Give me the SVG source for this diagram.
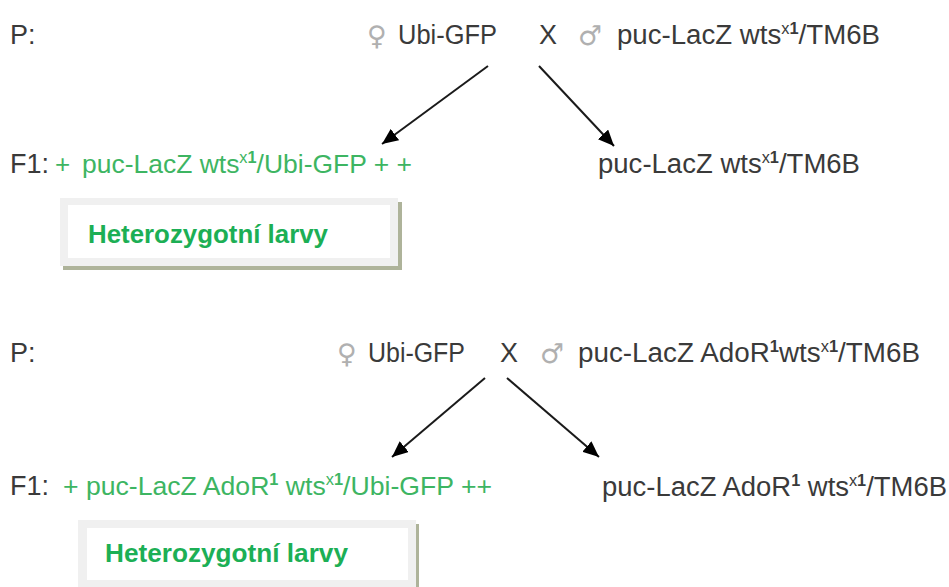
<svg xmlns="http://www.w3.org/2000/svg" width="949" height="587" viewBox="0 0 949 587">
<style>
  text { font-family: "Liberation Sans", Arial, sans-serif; font-size: 27px; }
  .k { fill: #3a3a3a; }
  .g { fill: #3db562; font-size: 26px; }
  .sym { font-family: "DejaVu Sans", sans-serif; font-size: 27px; fill: #b0b0b0; }
  .lbl { font-weight: bold; fill: #1caf55; font-size: 26px; }
  .sup { font-size: 16px; }
  .b { font-weight: bold; }
  .conn line { stroke: #1a1a1a; stroke-width: 2; marker-end: url(#ah); }
  .frame { fill: #f0f0f0; }
  .shadow { fill: #aeb39a; }
  .inner { fill: #ffffff; }
</style>
<defs>
  <marker id="ah" markerUnits="userSpaceOnUse" markerWidth="18" markerHeight="14" refX="16" refY="7" orient="auto">
    <path d="M0,0 L16,7 L0,14 z" fill="#000"/>
  </marker>
</defs>
<rect width="949" height="587" fill="#ffffff"/>

<g id="cross1-parents">
  <text class="k" x="10" y="44">P:</text>
  <text class="sym" x="367" y="45">♀</text>
  <text class="k" x="398" y="44" textLength="99" lengthAdjust="spacingAndGlyphs">Ubi-GFP</text>
  <text class="k" x="539" y="44">X</text>
  <text class="sym" x="578" y="45">♂</text>
  <text class="k" x="617" y="44" textLength="263" lengthAdjust="spacingAndGlyphs">puc-LacZ wts<tspan class="sup" dy="-10">x</tspan><tspan class="sup b">1</tspan><tspan dy="10">/TM6B</tspan></text>
</g>

<g id="cross1-f1-left">
  <text class="k" x="10" y="173">F1:</text>
  <text class="g" x="55" y="173">+</text>
  <text class="g" x="82" y="173" textLength="330" lengthAdjust="spacingAndGlyphs">puc-LacZ wts<tspan class="sup" dy="-10">x</tspan><tspan class="sup b">1</tspan><tspan dy="10">/Ubi-GFP + +</tspan></text>
</g>

<g id="cross1-f1-right">
  <text class="k" x="598" y="173" textLength="262" lengthAdjust="spacingAndGlyphs">puc-LacZ wts<tspan class="sup" dy="-10">x</tspan><tspan class="sup b">1</tspan><tspan dy="10">/TM6B</tspan></text>
</g>

<g id="cross1-label">
  <rect class="shadow" x="63" y="202" width="339" height="68"/>
  <rect class="frame" x="60" y="198" width="338" height="68"/>
  <rect class="inner" x="68" y="205" width="322" height="53"/>
  <text class="lbl" x="88" y="243" textLength="240" lengthAdjust="spacingAndGlyphs">Heterozygotní larvy</text>
</g>

<g id="cross2-parents">
  <text class="k" x="10" y="362">P:</text>
  <text class="sym" x="337" y="363">♀</text>
  <text class="k" x="368" y="362" textLength="97" lengthAdjust="spacingAndGlyphs">Ubi-GFP</text>
  <text class="k" x="500" y="362">X</text>
  <text class="sym" x="540" y="363">♂</text>
  <text class="k" x="578" y="362" textLength="342" lengthAdjust="spacingAndGlyphs">puc-LacZ AdoR<tspan class="sup b" dy="-10">1</tspan><tspan dy="10">wts</tspan><tspan class="sup" dy="-10">x</tspan><tspan class="sup b">1</tspan><tspan dy="10">/TM6B</tspan></text>
</g>

<g id="cross2-f1-left">
  <text class="k" x="10" y="495">F1:</text>
  <text class="g" x="63" y="495" textLength="429" lengthAdjust="spacingAndGlyphs">+ puc-LacZ AdoR<tspan class="sup b" dy="-10">1</tspan><tspan dy="10"> wts</tspan><tspan class="sup" dy="-10">x</tspan><tspan class="sup b">1</tspan><tspan dy="10">/Ubi-GFP ++</tspan></text>
</g>

<g id="cross2-f1-right">
  <text class="k" x="602" y="496" textLength="345" lengthAdjust="spacingAndGlyphs">puc-LacZ AdoR<tspan class="sup b" dy="-10">1</tspan><tspan dy="10"> wts</tspan><tspan class="sup" dy="-10">x</tspan><tspan class="sup b">1</tspan><tspan dy="10">/TM6B</tspan></text>
</g>

<g id="cross2-label">
  <rect class="shadow" x="81" y="524" width="338" height="66"/>
  <rect class="frame" x="78" y="520" width="338" height="70"/>
  <rect class="inner" x="87" y="528" width="321" height="52"/>
  <text class="lbl" x="105" y="562" textLength="243" lengthAdjust="spacingAndGlyphs">Heterozygotní larvy</text>
</g>

<g id="connectors" class="conn">
  <line x1="488" y1="66" x2="382" y2="144"/>
  <line x1="539" y1="66" x2="614" y2="146"/>
  <line x1="485" y1="378" x2="392" y2="457"/>
  <line x1="507" y1="378" x2="599" y2="457"/>
</g>
</svg>
